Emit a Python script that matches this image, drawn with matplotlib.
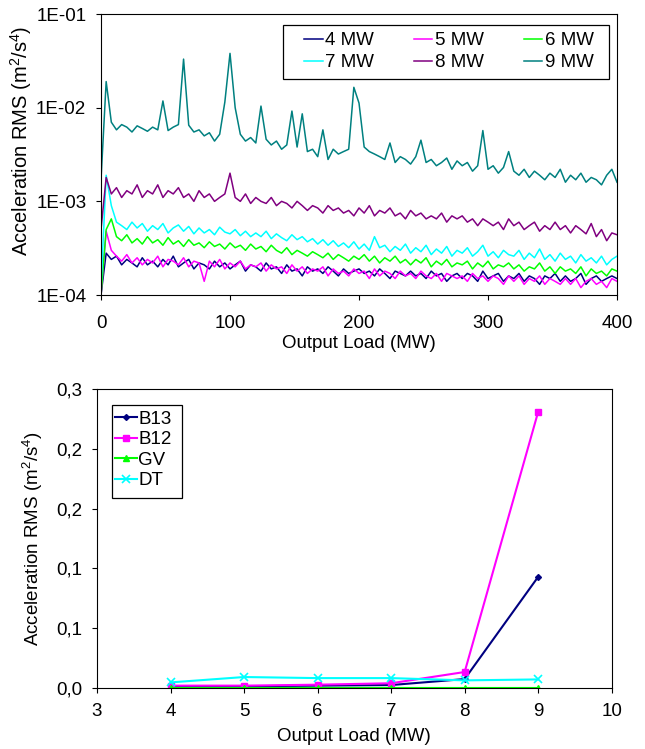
import numpy as np
import matplotlib
matplotlib.use('Agg')
import matplotlib.pyplot as plt
from matplotlib.patches import Rectangle

plt.rcParams['font.family'] = ['Liberation Sans', 'DejaVu Sans']
plt.rcParams['mathtext.default'] = 'regular'

# ---- top chart: RMS spectra, values in units of 1e-4 m2/s4, one every 4 MW ----
load_step = 4
mw_4 = [1, 2.8, 2.4, 2.6, 2.1, 2.4, 2.2, 2, 2.5, 2.1,
        2.3, 2, 2.4, 2.1, 2.6, 2, 2.2, 2.4, 1.9, 2.2,
        2.1, 1.9, 2.3, 2, 2.2, 1.9, 2.1, 2.3, 1.8, 2.1,
        2, 1.8, 2.2, 1.9, 2, 1.7, 2.1, 1.8, 1.9, 1.6,
        2, 1.8, 1.9, 1.7, 2, 1.8, 1.6, 1.9, 1.7, 1.8,
        1.9, 1.7, 1.8, 1.6, 1.9, 1.7, 1.5, 1.8, 1.7, 1.6,
        1.8, 1.6, 1.7, 1.5, 1.8, 1.6, 1.7, 1.4, 1.6, 1.7,
        1.5, 1.7, 1.6, 1.4, 1.8, 1.5, 1.6, 1.7, 1.4, 1.6,
        1.5, 1.7, 1.4, 1.6, 1.5, 1.3, 1.6, 1.5, 1.7, 1.4,
        1.6, 1.4, 1.5, 1.7, 1.3, 1.5, 1.6, 1.4, 1.5, 1.6,
        1.5]
mw_5 = [1, 4.8, 3, 2.6, 2.3, 2.7, 2.2, 2.5, 2.1, 2.4,
        2.2, 2.6, 2, 2.4, 2.3, 2.1, 2.5, 2, 2.3, 2.2,
        1.4, 2.3, 2, 2.4, 1.9, 2.2, 2, 2.3, 1.9, 2.1,
        2, 2.2, 1.8, 2.1, 1.9, 2, 1.7, 2.1, 1.8, 2,
        1.7, 1.9, 1.8, 2, 1.6, 1.9, 1.7, 1.8, 1.6, 1.9,
        1.7, 1.8, 1.5, 1.9, 1.6, 1.8, 1.7, 1.5, 1.8, 1.6,
        1.7, 1.5, 1.8, 1.6, 1.5, 1.7, 1.4, 1.7, 1.6, 1.5,
        1.6, 1.4, 1.7, 1.5, 1.6, 1.4, 1.6, 1.5, 1.3, 1.6,
        1.4, 1.6, 1.3, 1.5, 1.4, 1.6, 1.3, 1.5, 1.4, 1.3,
        1.5, 1.3, 1.5, 1.2, 1.4, 1.5, 1.3, 1.4, 1.2, 1.5,
        1.4]
mw_6 = [1, 5, 6.5, 4.2, 3.8, 4.4, 3.6, 4, 3.5, 4.2,
        3.6, 3.9, 3.4, 4.1, 3.5, 3.8, 3.3, 3.9, 3.4, 3.6,
        3.2, 3.7, 3.3, 3.5, 3.1, 3.6, 3.2, 3.4, 3, 3.5,
        3.1, 3.3, 2.9, 3.4, 3, 2.8, 3.2, 2.7, 3, 2.8,
        2.6, 2.9, 2.7, 2.5, 2.8, 2.4, 2.7, 2.5, 2.3, 2.6,
        2.4, 2.7, 2.3, 2.6, 2.2, 2.5, 2.3, 2.6, 2.2, 2.4,
        2.1, 2.4, 2.2, 2.5, 2, 2.3, 2.1, 2.4, 2, 2.2,
        2.1, 2.3, 1.9, 2.2, 2, 2.3, 1.9, 2.1, 2, 2.2,
        1.9, 2.1, 1.8, 2, 1.9, 2.2, 1.8, 2, 1.7, 2,
        1.8, 1.9, 1.7, 2, 1.6, 1.9, 1.7, 1.8, 1.6, 1.9,
        1.8]
mw_7 = [1.2, 19, 9, 6, 5.5, 5, 6, 5.2, 5.8, 4.8,
        5.5, 5, 5.8, 4.6, 5.2, 5.6, 4.8, 5.4, 4.5, 5.2,
        4.6, 5, 4.4, 5.3, 4.7, 4.5, 5, 4.3, 4.8, 4.2,
        4.6, 4.2, 4.8, 4, 4.5, 4.1, 3.8, 4.4, 3.9, 4.2,
        3.7, 4, 3.5, 3.9, 3.4, 3.8, 3.3, 3.6, 3.2, 3.7,
        3.1, 3.5, 3, 4.2, 3.2, 3.4, 2.9, 3.3, 3, 3.5,
        2.8, 3.2, 2.9, 3.4, 2.7, 3.1, 2.8, 3.3, 2.6, 3,
        2.8, 3.2, 2.6, 2.9, 3.4, 2.6, 2.9, 2.5, 3, 2.7,
        2.6, 3, 2.4, 2.8, 2.5, 3.1, 2.4, 2.7, 2.3, 2.8,
        2.4, 2.6, 2.2, 2.7, 2.3, 2.5, 2.2, 2.6, 2.1, 2.4,
        2.6]
mw_8 = [5, 18, 12, 14, 11, 13, 12, 15, 11, 13,
        12, 15, 11, 13, 12, 14, 11, 12, 10, 13,
        11, 12, 10, 11, 12, 20, 11, 10, 12, 9.5,
        11, 10, 9.5, 11, 9, 10, 9.5, 8.5, 10, 9,
        8, 9, 8.5, 7.5, 9, 8, 8.5, 7.5, 8, 7,
        8.5, 7.5, 9, 7, 8, 7.5, 8.5, 7, 7.5, 6.5,
        8, 7, 7.5, 6.5, 7, 6.5, 7.5, 6, 7, 6.5,
        7, 6, 6.5, 5.5, 6.5, 6, 5.5, 6, 5, 6.5,
        5.5, 6, 5, 5.5, 6, 4.8, 5.5, 5, 6, 5,
        5.5, 4.6, 5.5, 5, 4.5, 5.8, 4.2, 5, 3.8, 4.6,
        4.4]
mw_9 = [17, 190, 70, 58, 66, 62, 55, 64, 60, 56,
        62, 58, 118, 57, 62, 66, 330, 65, 55, 58,
        50, 54, 44, 52, 115, 380, 100, 52, 44, 48,
        42, 104, 46, 40, 44, 36, 40, 92, 38, 86,
        34, 36, 30, 58, 28, 36, 32, 34, 36, 165,
        112, 38, 34, 32, 30, 28, 42, 26, 30, 28,
        25, 30, 45, 26, 28, 24, 26, 29, 22, 27,
        24, 26, 21, 24, 57, 22, 24, 20, 23, 34,
        21, 19, 22, 18, 21, 19, 17, 20, 18, 22,
        16, 19, 17, 20, 16, 18, 17, 15, 19, 22,
        16]
spec_names = ['4 MW', '5 MW', '6 MW', '7 MW', '8 MW', '9 MW']
spec_colors = ['#000080', '#FF00FF', '#00FF00', '#00FFFF', '#800080', '#008080']

# ---- bottom chart: overall RMS per output load ----
loads = [4, 5, 6, 7, 8, 9]
b13 = [0.001, 0.0015, 0.002, 0.0025, 0.0075, 0.093]
b12 = [0.002, 0.002, 0.0028, 0.004, 0.0134, 0.231]
gv = [0.0004, 0.0004, 0.0004, 0.0004, 0.0004, 0.0004]
dt = [0.0047, 0.0092, 0.0083, 0.0083, 0.0064, 0.0072]
bottom_yticks = [0, 0.05, 0.1, 0.15, 0.2, 0.25]
bottom_ylabels = ['0,0', '0,1', '0,1', '0,2', '0,2', '0,3']

fs = 13.5
fig = plt.figure(figsize=(6.45, 7.49), dpi=100)

ax1 = fig.add_axes([0.1566, 0.6061, 0.8, 0.3752])
freq = np.arange(len(mw_9)) * load_step
lines = []
for vals, name, col in zip([mw_4, mw_5, mw_6, mw_7, mw_8, mw_9], spec_names, spec_colors):
    ln, = ax1.plot(freq, np.array(vals) * 1e-4, color=col, lw=1.1, label=name)
    lines.append(ln)
ax1.set_yscale('log')
ax1.set_ylim(1e-4, 1e-1)
ax1.set_xlim(0, 400)
ax1.set_xticks([0, 100, 200, 300, 400])
ax1.set_yticks([1e-4, 1e-3, 1e-2, 1e-1])
ax1.set_yticklabels(['1E-04', '1E-03', '1E-02', '1E-01'])
ax1.yaxis.set_minor_locator(matplotlib.ticker.NullLocator())
ax1.tick_params(labelsize=fs, direction='out', length=3.6)
ax1.tick_params(axis='y', pad=7)
ax1.tick_params(axis='x', pad=11)
ax1.set_xlabel('Output Load (MW)', fontsize=fs, labelpad=2)
ax1.set_ylabel('Acceleration RMS (m$^2$/s$^4$)', fontsize=14.5)
ax1.yaxis.set_label_coords(-0.13, 0.55)
# legend box drawn separately, entries laid out row-wise: 4,5,6 / 7,8,9
ax1.add_patch(Rectangle((0.353, 0.769), 0.631, 0.192, transform=ax1.transAxes,
                        facecolor='white', edgecolor='black', lw=0.9, zorder=4))
order = [0, 3, 1, 4, 2, 5]
leg1 = ax1.legend([lines[i] for i in order], [spec_names[i] for i in order],
                  ncol=3, loc='upper left', bbox_to_anchor=(0.393, 0.935), fontsize=fs,
                  frameon=False, handlelength=1.0, handletextpad=0.15, columnspacing=2.1,
                  borderpad=0, labelspacing=0.25, borderaxespad=0)
leg1.set_zorder(5)

ax2 = fig.add_axes([0.1504, 0.0814, 0.798, 0.3992])
ax2.plot(loads, b13, color='#000080', lw=1.5, marker='D', ms=3, label='B13')
ax2.plot(loads, b12, color='#FF00FF', lw=1.5, marker='s', ms=4, label='B12')
ax2.plot(loads, gv, color='#00FF00', lw=1.5, marker='^', ms=4, label='GV')
ax2.plot(loads, dt, color='#00FFFF', lw=1.5, marker='x', ms=6, mew=1.2, label='DT')
ax2.set_xlim(3, 10)
ax2.set_ylim(0, 0.25)
ax2.set_xticks(range(3, 11))
ax2.set_yticks(bottom_yticks)
ax2.set_yticklabels(bottom_ylabels)
ax2.tick_params(labelsize=fs, direction='out', length=3.6, pad=7)
ax2.set_xlabel('Output Load (MW)', fontsize=fs, labelpad=6)
ax2.set_ylabel('Acceleration RMS (m$^2$/s$^4$)', fontsize=fs)
ax2.yaxis.set_label_coords(-0.101, 0.5)
ax2.add_patch(Rectangle((0.029, 0.635), 0.136, 0.311, transform=ax2.transAxes,
                        facecolor='white', edgecolor='black', lw=0.9, zorder=4))
leg2 = ax2.legend(loc='upper left', bbox_to_anchor=(0.035, 0.928), fontsize=fs,
                  frameon=False, handlelength=1.17, handletextpad=0.08,
                  borderpad=0, labelspacing=0.18, borderaxespad=0)
leg2.set_zorder(5)

fig.savefig('out.png', dpi=100)
